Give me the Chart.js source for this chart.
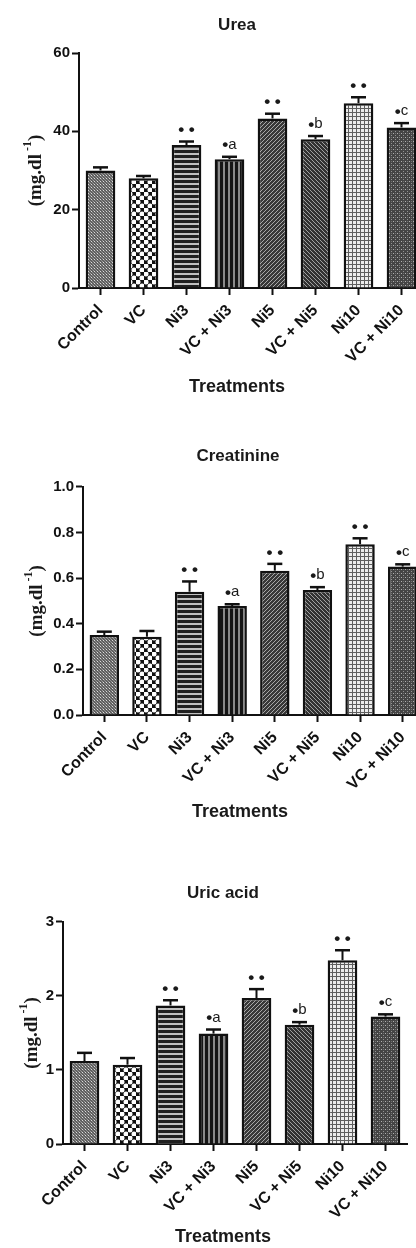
<!DOCTYPE html>
<html><head><meta charset="utf-8">
<script src="https://cdn.jsdelivr.net/npm/chart.js@4.4.1/dist/chart.umd.min.js"></script>
<style>
html,body{margin:0;padding:0;background:#fff;width:416px;height:1248px;overflow:hidden;position:relative}
canvas{position:absolute;left:0}
</style></head><body>
<canvas id="c1"></canvas><canvas id="c2"></canvas><canvas id="c3"></canvas>
<script>
// ---------- data ----------
const categories = ["Control", "VC", "Ni3", "VC + Ni3", "Ni5", "VC + Ni5", "Ni10", "VC + Ni10"];
const significance = ["", "", "• •", "•a", "• •", "•b", "• •", "•c"];

const ureaMeans  = [30.0, 28.0, 36.5, 32.9, 43.3, 38.0, 47.2, 41.0];
const ureaErrors = [0.8, 0.6, 0.9, 0.6, 1.2, 0.8, 1.5, 1.1];
const ureaTicks  = [0, 20, 40, 60];
const ureaTickLabels = ["0", "20", "40", "60"];

const creatinineMeans  = [0.350, 0.343, 0.540, 0.477, 0.632, 0.547, 0.748, 0.650];
const creatinineErrors = [0.015, 0.025, 0.045, 0.008, 0.030, 0.013, 0.026, 0.010];
const creatinineTicks  = [0, 0.2, 0.4, 0.6, 0.8, 1.0];
const creatinineTickLabels = ["0.0", "0.2", "0.4", "0.6", "0.8", "1.0"];

const uricMeans  = [1.12, 1.07, 1.87, 1.49, 1.97, 1.61, 2.48, 1.72];
const uricErrors = [0.11, 0.09, 0.07, 0.055, 0.12, 0.035, 0.135, 0.03];
const uricTicks  = [0, 1, 2, 3];
const uricTickLabels = ["0", "1", "2", "3"];

const xTitle = "Treatments";
const yTitleMain = "(mg.dl";
const yTitleSup = "-1";
const yTitleEnd = ")";

// ---------- patterns ----------
function makePatterns(ctx) {
  function pat(size, draw) {
    const c = document.createElement('canvas');
    c.width = size; c.height = size;
    const g = c.getContext('2d');
    draw(g, size);
    return ctx.createPattern(c, 'repeat');
  }
  function px(g, x, y, col) { g.fillStyle = col; g.fillRect(x, y, 1, 1); }
  return [
    // Control: fine gray texture
    pat(3, (g) => { g.fillStyle = '#606060'; g.fillRect(0,0,3,3); px(g,1,1,'#dadada'); px(g,0,0,'#a0a0a0'); px(g,2,2,'#909090'); }),
    // VC: white dots on black checker
    pat(8, (g) => { g.fillStyle = '#111'; g.fillRect(0,0,8,8); g.fillStyle = '#fff';
      g.beginPath(); g.arc(2,2,2.5,0,Math.PI*2); g.fill();
      g.beginPath(); g.arc(6,6,2.5,0,Math.PI*2); g.fill(); }),
    // Ni3: horizontal stripes
    pat(5, (g) => { g.fillStyle = '#c0c0c0'; g.fillRect(0,0,5,5); g.fillStyle = '#202020'; g.fillRect(0,0,5,3); }),
    // VC+Ni3: vertical stripes
    pat(5, (g) => { g.fillStyle = '#8a8a8a'; g.fillRect(0,0,5,5); g.fillStyle = '#151515'; g.fillRect(0,0,3,5); }),
    // Ni5: "/" diagonal
    pat(4, (g) => { g.fillStyle = '#383838'; g.fillRect(0,0,4,4); for (let i=0;i<4;i++) px(g,i,3-i,'#a8a8a8'); }),
    // VC+Ni5: "\" diagonal
    pat(4, (g) => { g.fillStyle = '#323232'; g.fillRect(0,0,4,4); for (let i=0;i<4;i++) px(g,i,i,'#a0a0a0'); }),
    // Ni10: grid
    pat(4, (g) => { g.fillStyle = '#ececec'; g.fillRect(0,0,4,4); g.fillStyle = '#5e5e5e'; g.fillRect(0,0,4,1); g.fillRect(0,0,1,4); }),
    // VC+Ni10: dark dotted
    pat(4, (g) => { g.fillStyle = '#454545'; g.fillRect(0,0,4,4); px(g,1,1,'#b0b0b0'); px(g,3,3,'#949494'); px(g,3,1,'#707070'); })
  ];
}

// ---------- decoration plugin (error bars, significance marks, titles) ----------
const decor = {
  id: 'panelDecor',
  afterDatasetsDraw(chart, args, o) {
    const ctx = chart.ctx, ys = chart.scales.y, meta = chart.getDatasetMeta(0);
    const means = chart.data.datasets[0].data;
    ctx.save();
    ctx.strokeStyle = '#111';
    meta.data.forEach((bar, i) => {
      const top = ys.getPixelForValue(means[i] + o.errors[i]);
      ctx.lineWidth = 2;
      ctx.beginPath(); ctx.moveTo(bar.x, bar.y); ctx.lineTo(bar.x, top); ctx.stroke();
      ctx.lineWidth = 2.5;
      ctx.beginPath(); ctx.moveTo(bar.x - 7.5, top); ctx.lineTo(bar.x + 7.5, top); ctx.stroke();
      const s = o.marks[i];
      if (s) {
        ctx.fillStyle = '#1a1a1a';
        ctx.textBaseline = 'middle';
        const bulletFont = 'bold 17px "Liberation Sans", Arial, sans-serif';
        const letterFont = '15px "Liberation Sans", Arial, sans-serif';
        if (s.indexOf(' ') >= 0) {
          ctx.textAlign = 'center';
          ctx.font = bulletFont;
          ctx.fillText(s, bar.x, top - 11);
        } else {
          ctx.font = bulletFont;
          const w1 = ctx.measureText('•').width;
          ctx.font = letterFont;
          const w2 = ctx.measureText(s.slice(1)).width;
          const x0 = bar.x - (w1 + w2) / 2;
          ctx.textAlign = 'left';
          ctx.font = bulletFont;
          ctx.fillText('•', x0, top - 11);
          ctx.font = letterFont;
          ctx.fillText(s.slice(1), x0 + w1, top - 12);
        }
      }
    });
    ctx.restore();
  },
  afterDraw(chart, args, o) {
    const ctx = chart.ctx, a = chart.chartArea;
    ctx.save();
    ctx.fillStyle = '#1a1a1a';
    ctx.textAlign = 'center'; ctx.textBaseline = 'middle';
    ctx.font = 'bold 17px "Liberation Sans", Arial, sans-serif';
    ctx.fillText(o.title, o.titleX, o.titleY);
    ctx.font = 'bold 18px "Liberation Sans", Arial, sans-serif';
    ctx.fillText(xTitle, o.xTitleX, o.xTitleY);
    // y title, rotated, with superscript
    const cy = (a.top + a.bottom) / 2;
    ctx.translate(o.yTitleX, cy);
    ctx.rotate(-Math.PI / 2);
    const fMain = 'bold 19px "Liberation Serif", "Times New Roman", serif';
    const fSup = 'bold 12px "Liberation Serif", "Times New Roman", serif';
    ctx.font = fMain; const w1 = ctx.measureText(yTitleMain).width; const w3 = ctx.measureText(yTitleEnd).width;
    ctx.font = fSup; const w2 = ctx.measureText(yTitleSup).width;
    const gap = 3;
    let x = -(w1 + gap + w2 + w3) / 2;
    ctx.textAlign = 'left';
    ctx.font = fMain; ctx.fillText(yTitleMain, x, 1); x += w1 + gap;
    ctx.font = fSup; ctx.fillText(yTitleSup, x, -7); x += w2;
    ctx.font = fMain; ctx.fillText(yTitleEnd, x, 1);
    ctx.restore();
  }
};

function makePanel(id, cfg) {
  const cv = document.getElementById(id);
  cv.width = cfg.W; cv.height = cfg.H; cv.style.top = cfg.top + 'px';
  const ctx = cv.getContext('2d');
  const A = cfg.area;
  const yFont = { family: '"Liberation Sans", Arial, sans-serif', size: 15, weight: 'bold' };
  const xFont = { family: '"Liberation Sans", Arial, sans-serif', size: 16, weight: 'bold' };
  return new Chart(ctx, {
    type: 'bar',
    data: {
      labels: categories,
      datasets: [{
        data: cfg.means,
        backgroundColor: makePatterns(ctx),
        borderColor: '#111',
        borderWidth: 2.5,
        borderSkipped: 'start',
        categoryPercentage: 1,
        barPercentage: 0.69
      }]
    },
    options: {
      responsive: false,
      animation: false,
      devicePixelRatio: 1,
      layout: { padding: { top: A.top, right: cfg.W - A.right, bottom: 0, left: 0 } },
      plugins: {
        legend: { display: false },
        tooltip: { enabled: false },
        title: { display: false },
        panelDecor: {
          errors: cfg.errors, marks: significance, title: cfg.title,
          titleX: cfg.titleX, titleY: cfg.titleY, xTitleX: cfg.xTitleX, xTitleY: cfg.xTitleY, yTitleX: cfg.yTitleX
        }
      },
      scales: {
        x: {
          z: 1,
          ticks: { minRotation: 45, maxRotation: 45, autoSkip: false, font: xFont, color: '#111', padding: 6 },
          grid: { drawOnChartArea: false, offset: false, tickLength: 7, tickWidth: 2, tickColor: '#111' },
          border: { color: '#111', width: 2 },
          afterFit: (s) => { s.height = cfg.H - A.bottom; }
        },
        y: {
          min: cfg.ticks[0], max: cfg.ticks[cfg.ticks.length - 1],
          afterBuildTicks: (s) => { s.ticks = cfg.ticks.map(v => ({ value: v })); },
          ticks: { callback: (v, i) => cfg.tickLabels[i], font: yFont, color: '#111', padding: 2 },
          grid: { drawOnChartArea: false, tickLength: 7, tickWidth: 2, tickColor: '#111' },
          border: { color: '#111', width: 2 },
          afterFit: (s) => { s.width = A.left; }
        }
      }
    },
    plugins: [decor]
  });
}

makePanel('c1', { top: 0, W: 430, H: 410, area: { left: 79, top: 53, right: 423, bottom: 288 },
  means: ureaMeans, errors: ureaErrors, ticks: ureaTicks, tickLabels: ureaTickLabels,
  title: 'Urea', titleX: 237, titleY: 25, xTitleX: 237, xTitleY: 387, yTitleX: 35 });
makePanel('c2', { top: 420, W: 430, H: 415, area: { left: 83, top: 66.7, right: 424, bottom: 295 },
  means: creatinineMeans, errors: creatinineErrors, ticks: creatinineTicks, tickLabels: creatinineTickLabels,
  title: 'Creatinine', titleX: 238, titleY: 36, xTitleX: 240, xTitleY: 392, yTitleX: 36 });
makePanel('c3', { top: 840, W: 416, H: 408, area: { left: 63, top: 81.7, right: 407, bottom: 304 },
  means: uricMeans, errors: uricErrors, ticks: uricTicks, tickLabels: uricTickLabels,
  title: 'Uric acid', titleX: 223, titleY: 53, xTitleX: 223, xTitleY: 397, yTitleX: 31 });
</script>
</body></html>
